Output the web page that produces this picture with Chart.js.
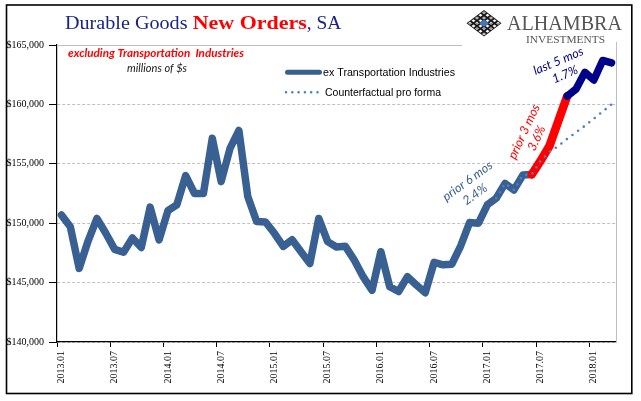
<!DOCTYPE html>
<html><head><meta charset="utf-8">
<script src="https://cdn.jsdelivr.net/npm/chart.js@4.4.1/dist/chart.umd.min.js"></script>
<style>html,body{margin:0;padding:0;background:#fff}#wrap{width:641px;height:401px;position:relative}canvas{display:block}</style>
</head><body><div id="wrap"><canvas id="c" width="641" height="401"></canvas></div>
<script>
const months = [
 "2013.01","2013.02","2013.03","2013.04","2013.05","2013.06","2013.07","2013.08","2013.09","2013.10","2013.11","2013.12",
 "2014.01","2014.02","2014.03","2014.04","2014.05","2014.06","2014.07","2014.08","2014.09","2014.10","2014.11","2014.12",
 "2015.01","2015.02","2015.03","2015.04","2015.05","2015.06","2015.07","2015.08","2015.09","2015.10","2015.11","2015.12",
 "2016.01","2016.02","2016.03","2016.04","2016.05","2016.06","2016.07","2016.08","2016.09","2016.10","2016.11","2016.12",
 "2017.01","2017.02","2017.03","2017.04","2017.05","2017.06","2017.07","2017.08","2017.09","2017.10","2017.11","2017.12",
 "2018.01","2018.02","2018.03"];
const exTransport = [
 150700,149700,146200,148500,150400,149150,147800,147550,148750,147950,151350,148600,
 151050,151550,154000,152500,152500,157150,153500,156300,157800,152250,150150,150100,
 149150,148050,148600,147600,146600,150400,148450,148000,148050,146900,145500,144350,
 147600,144650,144250,145500,144800,144150,146700,146500,146550,148100,150050,150000,
 151550,152100,153350,152800,154050,154100,155250,156500,158600,160700,161300,162700,
 162050,163700,163500];
const counterfactual = [
 null,null,null,null,null,null,null,null,null,null,null,null,
 null,null,null,null,null,null,null,null,null,null,null,null,
 null,null,null,null,null,null,null,null,null,null,null,null,
 null,null,null,null,null,null,null,null,null,null,null,null,
 null,152100,153350,152800,154050,154100,155250,156000,156500,157100,157650,158200,
 158800,159400,160000];
const yTicks = [140000,145000,150000,155000,160000,165000];
const seriesNames = ["ex Transportation Industries","Counterfactual pro forma"];
const redStart = 53, navyStart = 57;

const BLUE = '#386092', RED = '#FF0000', NAVY = '#00008B', DOT = '#4F81BD', TITLE = '#1B2385';

function fitText(c, text, x, y, font, color, w, align) {
  c.font = font;
  const m = c.measureText(text).width;
  const s = w / m;
  c.save();
  c.translate(align === 'center' ? x - w / 2 : x, y);
  c.scale(s, 1);
  c.fillStyle = color;
  c.textAlign = 'left';
  c.textBaseline = 'alphabetic';
  c.fillText(text, 0, 0);
  c.restore();
}
function rotText(c, text, cx, cy, deg, font, color) {
  c.save();
  c.translate(cx, cy);
  c.rotate(deg * Math.PI / 180);
  c.font = font; c.fillStyle = color; c.textAlign = 'center'; c.textBaseline = 'middle';
  c.fillText(text, 0, 0);
  c.restore();
}

const deco = {
  id: 'deco',
  beforeDraw(chart) {
    const c = chart.ctx; c.save(); c.fillStyle = '#fff'; c.fillRect(0, 0, chart.width, chart.height); c.restore();
  },
  beforeDatasetsDraw(chart) {
    const c = chart.ctx, a = chart.chartArea;
    c.save();
    c.fillStyle = '#fff';
    c.fillRect(462, 0, a.right - 462, a.top + 1.5);
    c.strokeStyle = '#BFBFBF'; c.lineWidth = 1; c.setLineDash([]);
    c.beginPath();
    c.moveTo(a.left, a.top + 0.5); c.lineTo(462, a.top + 0.5);
    c.moveTo(a.right + 0.5, a.top - 3); c.lineTo(a.right + 0.5, a.bottom);
    c.stroke();
    c.restore();
  },
  afterDraw(chart) {
    const c = chart.ctx;
    c.save();
    c.strokeStyle = '#000'; c.lineWidth = 1.6;
    c.strokeRect(6.5, 5, 625.3, 388.5);
    fitText(c, 'Durable Goods ', 65, 29.3, '19.5px "Liberation Serif"', TITLE, 127.5);
    fitText(c, 'New Orders', 192.7, 29.3, 'bold 19.5px "Liberation Serif"', RED, 114);
    fitText(c, ', SA', 306.7, 29.3, '19.5px "Liberation Serif"', TITLE, 34.5);
    const L = [466.5, 23.3], T = [484, 10], B = [484, 36.6];
    const P = (s, t) => [L[0] + s * (T[0] - L[0]) + t * (B[0] - L[0]), L[1] + s * (T[1] - L[1]) + t * (B[1] - L[1])];
    const rh = (s0, t0, s1, t1, col) => {
      const p1 = P(s0, t0), p2 = P(s1, t0), p3 = P(s1, t1), p4 = P(s0, t1);
      c.beginPath(); c.moveTo(p1[0], p1[1]); c.lineTo(p2[0], p2[1]); c.lineTo(p3[0], p3[1]); c.lineTo(p4[0], p4[1]); c.closePath();
      c.fillStyle = col; c.fill();
    };
    rh(0, 0, 1, 1, '#1a1a1a');
    const n = 5, g = 1 / n;
    for (let i = 0; i < n; i++) for (let j = 0; j < n; j++) {
      rh(i * g + 0.045, j * g + 0.045, (i + 1) * g - 0.045, (j + 1) * g - 0.045, '#fff');
      rh(i * g + 0.075, j * g + 0.075, (i + 1) * g - 0.075, (j + 1) * g - 0.075, (i + j) % 2 ? '#fff' : '#333');
      rh(i * g + 0.095, j * g + 0.095, (i + 1) * g - 0.095, (j + 1) * g - 0.095, '#fff');
    }
    rh(0.36, 0.36, 0.64, 0.64, '#3C78C8');
    fitText(c, 'ALHAMBRA', 507, 29.5, '22px "Liberation Serif"', '#555', 115);
    fitText(c, 'INVESTMENTS', 526, 43.3, '10.5px "Liberation Serif"', '#555', 79);
    fitText(c, 'excluding Transportation  Industries', 156, 56.5, 'italic bold 12px Lato', RED, 176, 'center');
    fitText(c, 'millions of $s', 157, 71.5, 'italic 11px Lato', '#1a1a1a', 60, 'center');
    c.lineCap = 'round';
    c.strokeStyle = BLUE; c.lineWidth = 5;
    c.beginPath(); c.moveTo(287.5, 72.3); c.lineTo(319.5, 72.3); c.stroke();
    c.strokeStyle = DOT; c.lineWidth = 2.6; c.setLineDash([0, 6.3]);
    c.beginPath(); c.moveTo(286, 92.3); c.lineTo(318, 92.3); c.stroke();
    c.setLineDash([]);
    fitText(c, seriesNames[0], 323, 76.2, '10.5px "Liberation Sans"', '#000', 132);
    fitText(c, seriesNames[1], 325, 96.2, '10.5px "Liberation Sans"', '#000', 116);
    rotText(c, 'prior 6 mos', 467.5, 181, -36, 'italic 12.5px Lato', BLUE);
    rotText(c, '2.4%', 475, 194.5, -36, 'italic 12.5px Lato', BLUE);
    rotText(c, 'prior 3 mos', 524, 131.7, -65, 'italic 12.5px Lato', RED);
    rotText(c, '3.6%', 536.5, 138.3, -65, 'italic 12.5px Lato', RED);
    rotText(c, 'last 5 mos', 558.3, 61, -23, 'italic 12.5px Lato', NAVY);
    rotText(c, '1.7%', 565, 74.5, -23, 'italic 12.5px Lato', NAVY);
    c.restore();
  }
};

const tickCol = ctx => (ctx.index % 6 === 0 ? '#000' : 'rgba(0,0,0,0)');

new Chart(document.getElementById('c'), {
  type: 'line',
  data: {
    labels: months,
    datasets: [
      { label: seriesNames[1], data: counterfactual, borderColor: DOT, borderWidth: 2.6, borderDash: [0, 7],
        borderCapStyle: 'round', pointRadius: 0, fill: false, tension: 0, order: 0 },
      { label: seriesNames[0], data: exTransport, borderColor: BLUE, borderWidth: 7.5, borderJoinStyle: 'round',
        borderCapStyle: 'round', pointRadius: 0, fill: false, tension: 0, order: 1,
        segment: {
          borderColor: s => s.p0DataIndex >= navyStart ? NAVY : (s.p0DataIndex >= redStart ? RED : BLUE),
          borderWidth: s => (s.p0DataIndex >= redStart && s.p0DataIndex < navyStart) ? 8.5 : 7.5
        } }
    ]
  },
  options: {
    responsive: false, animation: false, devicePixelRatio: 1,
    layout: { padding: { left: 0, right: 25, top: 45, bottom: 0 } },
    plugins: { legend: { display: false }, tooltip: { enabled: false }, title: { display: false } },
    scales: {
      x: {
        type: 'category', offset: true,
        grid: { offset: true, drawOnChartArea: false, drawTicks: true, tickLength: 5, color: tickCol, tickColor: tickCol, lineWidth: 1 },
        border: { color: '#000', width: 1.2 },
        ticks: { autoSkip: false, maxRotation: 90, minRotation: 90, padding: 4, color: '#000',
          font: { family: 'Liberation Serif', size: 10 },
          callback: function (v, i) { return i % 6 === 0 ? this.getLabelForValue(v) : ''; } },
        afterFit: s => { s.height = 59; }
      },
      y: {
        min: yTicks[0], max: yTicks[yTicks.length - 1],
        afterBuildTicks: s => { s.ticks = yTicks.map(v => ({ value: v })); },
        grid: { color: '#C0C0C0', tickColor: '#000', tickLength: 8, lineWidth: 1 },
        border: { color: '#000', width: 1.2, dash: [3, 2] },
        ticks: { padding: 5, color: '#000', font: { family: 'Liberation Serif', size: 10 },
          callback: v => '$' + Number(v).toLocaleString('en-US') },
        afterFit: s => { s.width = 57; }
      }
    }
  },
  plugins: [deco]
});
</script></body></html>
